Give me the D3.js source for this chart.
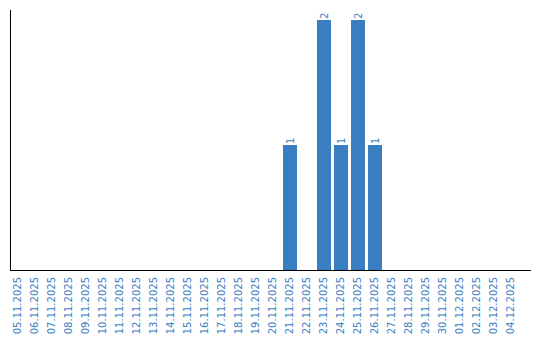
<!DOCTYPE html>
<html>
<head>
<meta charset="utf-8">
<script src="https://cdn.jsdelivr.net/npm/d3@7"></script>
<style>
  html, body { margin: 0; padding: 0; background: #fff; }
  svg { display: block; font-family: "DejaVu Sans", Verdana, sans-serif; }
</style>
</head>
<body>
<div id="chart"></div>
<script>
const dates = [
  "05.11.2025", "06.11.2025", "07.11.2025", "08.11.2025", "09.11.2025",
  "10.11.2025", "11.11.2025", "12.11.2025", "13.11.2025", "14.11.2025",
  "15.11.2025", "16.11.2025", "17.11.2025", "18.11.2025", "19.11.2025",
  "20.11.2025", "21.11.2025", "22.11.2025", "23.11.2025", "24.11.2025",
  "25.11.2025", "26.11.2025", "27.11.2025", "28.11.2025", "29.11.2025",
  "30.11.2025", "01.12.2025", "02.12.2025", "03.12.2025", "04.12.2025"
];
const counts = [
  0, 0, 0, 0, 0, 0, 0, 0, 0, 0,
  0, 0, 0, 0, 0, 0, 1, 0, 2, 1,
  2, 1, 0, 0, 0, 0, 0, 0, 0, 0
];

const blue = "#3a7ec2";
const width = 540, height = 340;
const plot = { left: 10, top: 10, bottom: 270, right: 531 };

const data = dates.map((date, i) => ({ date, count: counts[i] }));

const svg = d3.select("#chart").append("svg")
  .attr("width", width)
  .attr("height", height);

const x = d3.scaleBand()
  .domain(dates)
  .range([plot.left - 0.5, plot.left + 509.5])
  .paddingInner(0.176)
  .paddingOuter(0.088);

const y = d3.scaleLinear()
  .domain([0, d3.max(counts) * 1.04])
  .range([plot.bottom, plot.top]);

// bars
svg.selectAll(".bar")
  .data(data.filter((d) => d.count > 0))
  .join("rect")
  .attr("class", "bar")
  .attr("x", (d) => x(d.date))
  .attr("y", (d) => y(d.count))
  .attr("width", x.bandwidth())
  .attr("height", (d) => plot.bottom - y(d.count))
  .attr("fill", blue);

// value labels, rotated
svg.selectAll(".bar-label")
  .data(data.filter((d) => d.count > 0))
  .join("text")
  .attr("class", "bar-label")
  .attr("transform", (d) => `translate(${x(d.date) + x.bandwidth() / 2},${y(d.count) - 1}) rotate(-90)`)
  .attr("dy", "0.35em")
  .attr("text-anchor", "start")
  .attr("font-size", 10)
  .attr("fill", blue)
  .text((d) => d.count);

// axis lines
svg.append("line")
  .attr("x1", plot.left + 0.5).attr("x2", plot.left + 0.5)
  .attr("y1", plot.top).attr("y2", plot.bottom)
  .attr("stroke", "#000").attr("stroke-width", 1);

svg.append("line")
  .attr("x1", plot.left).attr("x2", plot.right)
  .attr("y1", plot.bottom + 0.5).attr("y2", plot.bottom + 0.5)
  .attr("stroke", "#000").attr("stroke-width", 1);

// x tick labels
const xAxis = svg.append("g")
  .attr("transform", `translate(0,${plot.bottom})`)
  .call(d3.axisBottom(x).tickSize(0).tickPadding(0));
xAxis.select(".domain").remove();
xAxis.selectAll("text")
  .attr("font-family", "DejaVu Sans, sans-serif")
  .attr("font-size", 10)
  .attr("fill", blue)
  .attr("text-anchor", "end")
  .attr("transform", "translate(-1,7) rotate(-90)")
  .attr("x", 0)
  .attr("y", 0)
  .attr("dy", "0.35em");
</script>
</body>
</html>
